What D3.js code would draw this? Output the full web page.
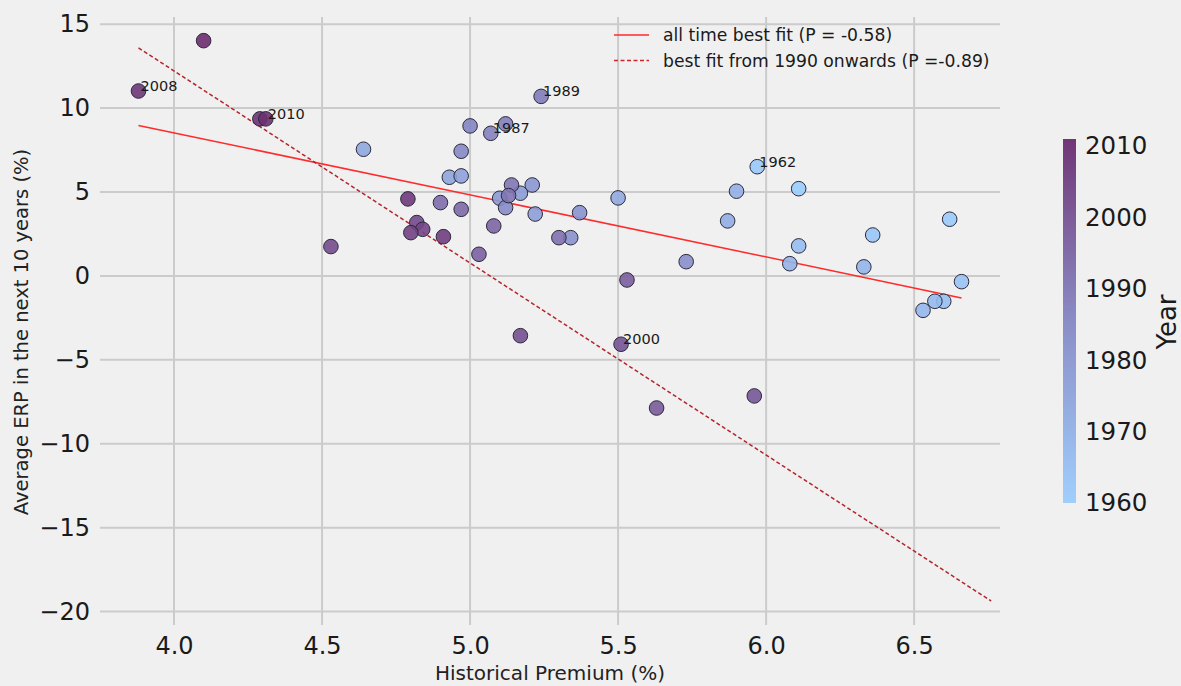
<!DOCTYPE html>
<html>
<head>
<meta charset="utf-8">
<script src="https://cdn.jsdelivr.net/npm/d3@7"></script>
<style>
  html, body { margin: 0; padding: 0; background: #f0f0f0; }
  svg { display: block; font-family: "DejaVu Sans", sans-serif; }
</style>
</head>
<body>
<svg id="chart" width="1181" height="686"></svg>
<script>
// Historical premium vs. average ERP over the following 10 years

// one entry per year, 1960..2011
var years = d3.range(1960, 2012);
var premium = [
  6.11, 6.62, 5.97, 6.36, 6.66, 6.60, 6.11, 6.57, 6.53, 6.33,
  6.08, 5.90, 5.87, 5.50, 4.64, 4.93, 4.97, 5.22, 5.17, 5.10,
  5.21, 5.37, 5.34, 5.73, 5.12, 4.97, 5.00, 5.07, 5.12, 5.24,
  5.14, 5.13, 5.30, 4.90, 4.97, 5.08, 5.03, 5.53, 5.63, 5.96,
  5.51, 5.17, 4.53, 4.82, 4.84, 4.80, 4.91, 4.79, 3.88, 4.29,
  4.31, 4.10
];
var erp = [
  5.20, 3.38, 6.51, 2.44, -0.34, -1.51, 1.79, -1.51, -2.05, 0.54,
  0.73, 5.05, 3.28, 4.65, 7.55, 5.88, 5.96, 3.69, 4.93, 4.63,
  5.42, 3.77, 2.28, 0.85, 4.07, 7.43, 8.94, 8.50, 9.06, 10.70,
  5.42, 4.79, 2.28, 4.37, 3.97, 2.98, 1.29, -0.24, -7.87, -7.15,
  -4.07, -3.56, 1.75, 3.18, 2.78, 2.58, 2.34, 4.59, 11.02, 9.36,
  9.36, 14.02
];
var labelled = [2008, 2010, 1989, 1987, 1962, 2000];

// fitted lines, read as end points [x, y]
var fitAll = [[3.88, 8.97], [6.66, -1.31]];
var fit1990 = [[3.88, 13.59], [6.76, -19.37]];

var legendLabels = ["all time best fit (P = -0.58)", "best fit from 1990 onwards (P =-0.89)"];

var xTicks = [4.0, 4.5, 5.0, 5.5, 6.0, 6.5];
var yTicks = [15, 10, 5, 0, -5, -10, -15, -20];
var cbTicks = [1960, 1970, 1980, 1990, 2000, 2010];

var svg = d3.select("#chart");

var x = d3.scaleLinear().domain([3.75, 6.79]).range([100, 1000]);
var y = d3.scaleLinear().domain([-20.8, 15.43]).range([625, 17]);

var color = d3.scaleLinear()
  .domain([1960, 1985, 2011])
  .range(["#9bcdfd", "#8689c6", "#6b2c6f"])
  .interpolate(d3.interpolateRgb);

// grid
var grid = svg.append("g").attr("class", "grid");
grid.selectAll("line.v").data(xTicks).join("line")
  .attr("x1", function(d) { return x(d); })
  .attr("x2", function(d) { return x(d); })
  .attr("y1", y.range()[1]).attr("y2", y.range()[0])
  .attr("stroke", "#cbcbcb").attr("stroke-width", 2);
grid.selectAll("line.h").data(yTicks).join("line")
  .attr("x1", x.range()[0]).attr("x2", x.range()[1])
  .attr("y1", function(d) { return y(d); })
  .attr("y2", function(d) { return y(d); })
  .attr("stroke", "#cbcbcb").attr("stroke-width", 2);

// axes: only the labels, no spines
var xAxis = svg.append("g")
  .attr("transform", "translate(0," + y.range()[0] + ")")
  .call(d3.axisBottom(x).tickValues(xTicks).tickFormat(d3.format(".1f")).tickSize(0).tickPadding(11));
var yAxis = svg.append("g")
  .attr("transform", "translate(" + x.range()[0] + ",0)")
  .call(d3.axisLeft(y).tickValues(yTicks).tickSize(0).tickPadding(10));
[xAxis, yAxis].forEach(function(a) {
  a.select(".domain").remove();
  a.selectAll("text")
    .attr("fill", "#1a1a1a")
    .style("font-size", "24px")
    .style("font-family", "DejaVu Sans, sans-serif");
});
xAxis.selectAll("text").attr("dy", "0.75em");

svg.append("text")
  .attr("x", 550).attr("y", 680)
  .attr("text-anchor", "middle")
  .attr("fill", "#222")
  .style("font-size", "20px")
  .text("Historical Premium (%)");
svg.append("text")
  .attr("transform", "translate(28,332) rotate(-90)")
  .attr("text-anchor", "middle")
  .attr("fill", "#222")
  .style("font-size", "19.5px")
  .text("Average ERP in the next 10 years (%)");

// fit lines
var line = d3.line()
  .x(function(d) { return x(d[0]); })
  .y(function(d) { return y(d[1]); });
svg.append("path").datum(fitAll)
  .attr("d", line)
  .attr("fill", "none")
  .attr("stroke", "#ff2a2a").attr("stroke-width", 1.5);
svg.append("path").datum(fit1990)
  .attr("d", line)
  .attr("fill", "none")
  .attr("stroke", "#b3262b").attr("stroke-width", 1.5)
  .attr("stroke-dasharray", "4,2.5");

// points
var points = years.map(function(yr, i) {
  return { year: yr, px: premium[i], erp: erp[i] };
});
svg.append("g").selectAll("circle").data(points).join("circle")
  .attr("cx", function(d) { return x(d.px); })
  .attr("cy", function(d) { return y(d.erp); })
  .attr("r", 7.3)
  .attr("fill", function(d) { return color(d.year); })
  .attr("fill-opacity", 0.9)
  .attr("stroke", "#2b2b3b").attr("stroke-width", 1);

// year annotations
svg.append("g").selectAll("text")
  .data(points.filter(function(d) { return labelled.indexOf(d.year) >= 0; }))
  .join("text")
  .attr("x", function(d) { return x(d.px) + 2; })
  .attr("y", function(d) { return y(d.erp); })
  .attr("fill", "#1a1a1a")
  .style("font-size", "14.5px")
  .text(function(d) { return d.year; });

// legend
var legend = svg.append("g").attr("transform", "translate(614,35)");
legendLabels.forEach(function(lab, i) {
  var row = legend.append("g").attr("transform", "translate(0," + (i * 25.5) + ")");
  row.append("line")
    .attr("x1", 0).attr("x2", 35).attr("y1", 0).attr("y2", 0)
    .attr("stroke", i == 0 ? "#ff2a2a" : "#d0262b")
    .attr("stroke-width", 1.5)
    .attr("stroke-dasharray", i == 0 ? null : "4,2.5");
  row.append("text")
    .attr("x", 49).attr("y", 0).attr("dy", "0.35em")
    .attr("fill", "#1a1a1a")
    .style("font-size", "17.2px")
    .text(lab);
});

// colorbar
var cb = d3.scaleLinear().domain([1960, 2011]).range([503, 139]);
var defs = svg.append("defs");
var grad = defs.append("linearGradient")
  .attr("id", "cbgrad")
  .attr("x1", 0).attr("y1", 1).attr("x2", 0).attr("y2", 0);
d3.range(0, 1.0001, 0.1).forEach(function(t) {
  grad.append("stop")
    .attr("offset", t)
    .attr("stop-color", color(1960 + t * 51));
});
svg.append("rect")
  .attr("x", 1063).attr("y", cb(2011))
  .attr("width", 13).attr("height", cb(1960) - cb(2011))
  .attr("fill", "url(#cbgrad)")
  .attr("fill-opacity", 0.95);
var cbAxis = svg.append("g")
  .attr("transform", "translate(1076,0)")
  .call(d3.axisRight(cb).tickValues(cbTicks).tickFormat(d3.format("d")).tickSize(0).tickPadding(9));
cbAxis.select(".domain").remove();
cbAxis.selectAll("text")
  .attr("fill", "#1a1a1a")
  .style("font-size", "24.5px")
  .style("font-family", "DejaVu Sans, sans-serif");
svg.append("text")
  .attr("transform", "translate(1176,322) rotate(-90)")
  .attr("text-anchor", "middle")
  .attr("fill", "#1a1a1a")
  .style("font-size", "26px")
  .text("Year");
</script>
</body>
</html>
